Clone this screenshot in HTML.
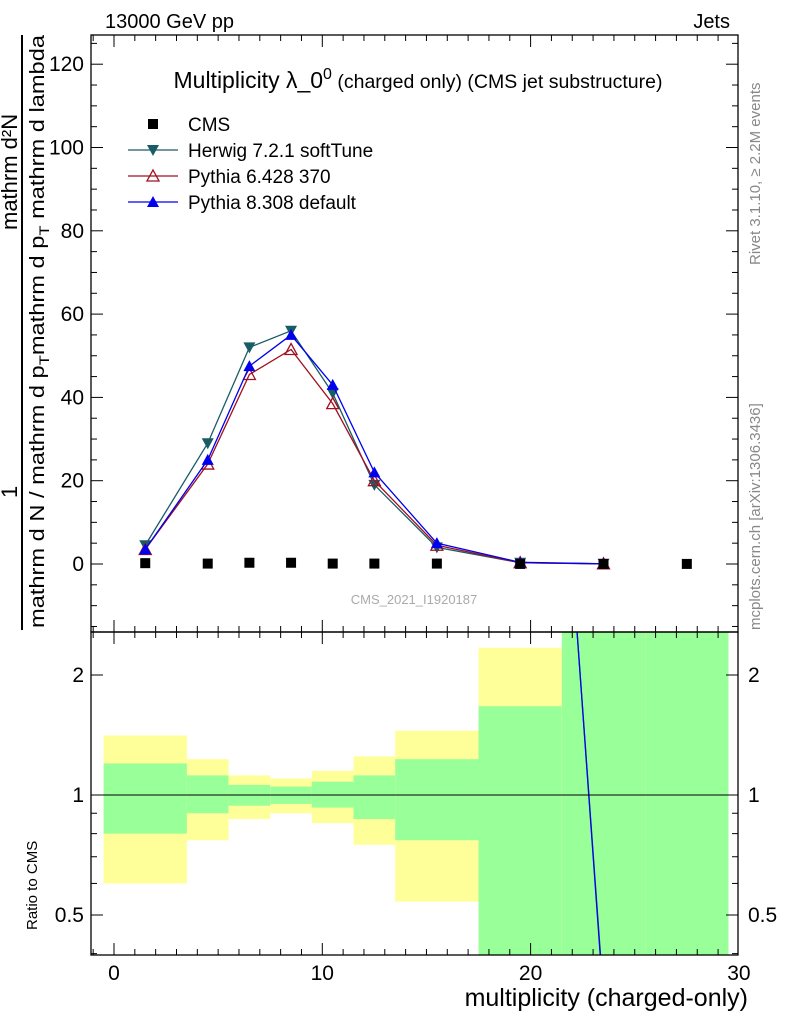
<!DOCTYPE html>
<html><head><meta charset="utf-8"><style>
html,body{margin:0;background:#fff;overflow:hidden;width:786px;height:1024px}
svg{display:block}
svg text{font-family:"Liberation Sans",Arial,sans-serif}
</style></head><body>
<svg id="c" width="786" height="1024" viewBox="0 0 786 1024" xmlns="http://www.w3.org/2000/svg">
<defs>
<clipPath id="cm"><rect x="91" y="35" width="647" height="597"/></clipPath>
<clipPath id="cr"><rect x="91" y="632" width="647" height="323"/></clipPath>
</defs>
<g id="bands" clip-path="url(#cr)"></g>
<g id="main"></g>
<g id="ratio" clip-path="url(#cr)"></g>
<g id="axes"></g>
<text x="105" y="28" font-size="20">13000 GeV pp</text>
<text x="730" y="28" font-size="20" text-anchor="end">Jets</text>
<text x="418" y="88" font-size="23" text-anchor="middle">Multiplicity λ_0<tspan dy="-9" font-size="16">0</tspan><tspan dy="9" font-size="19.5"> (charged only) (CMS jet substructure)</tspan></text>
<text x="414" y="604" font-size="13" fill="#aaa" text-anchor="middle">CMS_2021_I1920187</text>
<text transform="translate(760,265) rotate(-90)" font-size="15" fill="#888">Rivet 3.1.10, ≥ 2.2M events</text>
<text transform="translate(760,630) rotate(-90)" font-size="15" fill="#888">mcplots.cern.ch [arXiv:1306.3436]</text>
<line x1="22" y1="35" x2="22" y2="630" stroke="#000" stroke-width="2"/>
<text transform="translate(17,498) rotate(-90)" font-size="22">1</text>
<text transform="translate(17,230) rotate(-90)" font-size="22">mathrm d²N</text>
<text transform="translate(44,628) rotate(-90)" font-size="20" textLength="593" lengthAdjust="spacingAndGlyphs">mathrm d N / mathrm d p<tspan dy="5" font-size="14">T</tspan><tspan dy="-5">mathrm d p</tspan><tspan dy="5" font-size="14">T</tspan><tspan dy="-5"> mathrm d lambda</tspan></text>
<text transform="translate(37,930) rotate(-90)" font-size="15">Ratio to CMS</text>
<text x="748" y="1006" font-size="25" text-anchor="end">multiplicity (charged-only)</text>
<g id="legend"></g>
</svg>
<script>
const xCenters=[1.5,4.5,6.5,8.5,10.5,12.5,15.5,19.5,23.5,27.5];
const binEdges=[-0.5,3.5,5.5,7.5,9.5,11.5,13.5,17.5,21.5,25.5,29.5];
const cms=[0.2,0.1,0.3,0.3,0.1,0.1,0.1,0.02,0.02,0.02];
const herwig=[4.5,29,52,56,41,19,4,0.3,0.05];
const pythia6=[3.5,24,45.5,51.5,38.5,20,4.5,0.3,0.05];
const pythia8=[3.5,25,47.5,55,43,22,5,0.4,0.05];
const yellowHi=[1.41,1.23,1.12,1.10,1.15,1.25,1.45,2.34,3,3];
const yellowLo=[0.60,0.77,0.87,0.90,0.85,0.75,0.54,0.35,0.35,0.35];
const greenHi=[1.2,1.12,1.06,1.05,1.08,1.12,1.23,1.67,3,3];
const greenLo=[0.80,0.90,0.94,0.95,0.93,0.87,0.77,0.35,0.35,0.35];
const ratioX=[22.2,23.4];
const herwigRatio=[2.7,0.37];
const pythia8Ratio=[2.7,0.36];
const mainTicks=[0,20,40,60,80,100,120];
const xTicks=[0,10,20,30];
const ratioTicks=[0.5,1,2];
const NS="http://www.w3.org/2000/svg";
const X=v=>114+20.83*v;
const Y=v=>564-4.165*v;
const R=r=>795-120*Math.log2(r);
function mk(p,t,a){const e=document.createElementNS(NS,t);for(const k in a)e.setAttribute(k,a[k]);p.appendChild(e);return e;}
const bands=document.getElementById('bands'),main=document.getElementById('main'),ratio=document.getElementById('ratio'),axes=document.getElementById('axes'),leg=document.getElementById('legend');
for(let i=0;i<binEdges.length-1;i++){
 const x0=X(binEdges[i]),x1=X(binEdges[i+1]);
 let r=mk(bands,'rect',{x:x0,y:R(yellowHi[i]),width:x1-x0,height:R(yellowLo[i])-R(yellowHi[i]),fill:'#ffff99'});
 
 
 r=mk(bands,'rect',{x:x0,y:R(greenHi[i]),width:x1-x0,height:R(greenLo[i])-R(greenHi[i]),fill:'#99ff99'});
 
 
}
function drawMarker(g,x,y,col,m){
 let e;
 if(m==='down')e=mk(g,'polygon',{points:`${x-6},${y-5} ${x+6},${y-5} ${x},${y+6}`,fill:col});
 else if(m==='upopen')e=mk(g,'polygon',{points:`${x-6},${y+5} ${x+6},${y+5} ${x},${y-6}`,fill:'none',stroke:col,'stroke-width':1.3});
 else if(m==='up')e=mk(g,'polygon',{points:`${x-6},${y+5} ${x+6},${y+5} ${x},${y-6}`,fill:col});
 else e=mk(g,'rect',{x:x-5,y:y-5,width:10,height:10,fill:col});
 
 
 return e;
}
function series(vals,col,marker,name){
 const g=mk(main,'g',{'clip-path':'url(#cm)'});
 
 
 mk(g,'polyline',{points:vals.map((v,i)=>X(xCenters[i])+','+Y(v)).join(' '),fill:'none',stroke:col,'stroke-width':1.3});
 vals.forEach((v,i)=>drawMarker(g,X(xCenters[i]),Y(v),col,marker));
}
series(herwig,'#1a5c66','down','herwig-series');
series(pythia6,'#a01020','upopen','pythia6-series');
series(pythia8,'#0000ee','up','pythia8-series');
cms.forEach((v,i)=>{const e=drawMarker(main,X(xCenters[i]),Y(v),'#000','sq');
 });
[[herwigRatio,'#1a5c66'],[pythia8Ratio,'#0000ee']].forEach(([a,c])=>{
 const p=mk(ratio,'polyline',{points:a.map((v,i)=>X(ratioX[i])+','+R(v)).join(' '),fill:'none',stroke:c,'stroke-width':1.3});
 
 
});
const ul=mk(ratio,'line',{x1:91,x2:738,y1:R(1),y2:R(1),stroke:'#000','stroke-width':1});


mk(axes,'rect',{x:91,y:35,width:647,height:597,fill:'none',stroke:'#000','stroke-width':1.3});
mk(axes,'rect',{x:91,y:632,width:647,height:323,fill:'none',stroke:'#000','stroke-width':1.3});
for(let v=-15;v<=125;v+=5){const y=Y(v);if(y<35||y>632)continue;const L=v%20===0?12:6;
 mk(axes,'line',{x1:91,x2:91+L,y1:y,y2:y,stroke:'#000'});mk(axes,'line',{x1:738,x2:738-L,y1:y,y2:y,stroke:'#000'});}
mainTicks.forEach(v=>{const t=mk(axes,'text',{x:84,y:Y(v)+7,'font-size':21,'text-anchor':'end'});t.textContent=v;
 
 });
for(let v=-1;v<=30;v++){const x=X(v);if(x<91||x>738)continue;const L=v%10===0?12:6;
 mk(axes,'line',{x1:x,x2:x,y1:632,y2:632-L,stroke:'#000'});mk(axes,'line',{x1:x,x2:x,y1:35,y2:35+L,stroke:'#000'});
 mk(axes,'line',{x1:x,x2:x,y1:955,y2:955-L,stroke:'#000'});mk(axes,'line',{x1:x,x2:x,y1:632,y2:632+L,stroke:'#000'});}
xTicks.forEach(v=>{const t=mk(axes,'text',{x:X(v),y:980,'font-size':21,'text-anchor':'middle'});t.textContent=v;
 
 });
[0.4,0.5,0.6,0.7,0.8,0.9,1,2].forEach(r=>{const y=R(r);if(y<632||y>955)return;const L=ratioTicks.includes(r)?12:6;
 mk(axes,'line',{x1:91,x2:91+L,y1:y,y2:y,stroke:'#000'});mk(axes,'line',{x1:738,x2:738-L,y1:y,y2:y,stroke:'#000'});});
ratioTicks.forEach(r=>{[[84,'end'],[748,'start']].forEach(([x,a])=>{const t=mk(axes,'text',{x:x,y:R(r)+7,'font-size':21,'text-anchor':a});t.textContent=r;
 
 });});
const legNames=['CMS','Herwig 7.2.1 softTune','Pythia 6.428 370','Pythia 8.308 default'];
const legCols=['#000','#1a5c66','#a01020','#0000ee'];
const legMk=['sq','down','upopen','up'];
legNames.forEach((n,i)=>{const y=124+26*i;const g=mk(leg,'g',{});
 
 
 if(i>0)mk(g,'line',{x1:128,x2:178,y1:y,y2:y,stroke:legCols[i],'stroke-width':1.3});
 drawMarker(g,153,y,legCols[i],legMk[i]);
 const t=mk(g,'text',{x:188,y:y+7,'font-size':19});t.textContent=n;});
</script>
</body></html>
